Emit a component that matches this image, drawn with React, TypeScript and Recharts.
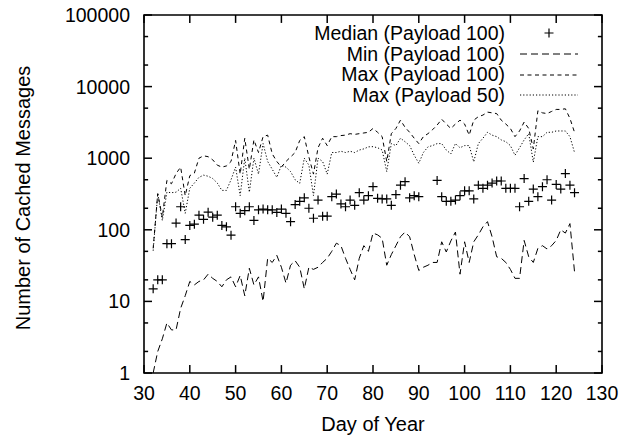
import { ComposedChart, Line, Scatter, XAxis, YAxis, Legend, ReferenceLine, ReferenceArea } from "recharts";

document.body.style.margin = "0";

const FONT = '"Liberation Sans", Arial, Helvetica, sans-serif';
const FS = 19.5;

// day of year, one entry per sample
const days = [
  32, 33, 34, 35, 36, 37, 38, 39, 40, 41,
  42, 43, 44, 45, 46, 47, 48, 49, 50, 51,
  52, 53, 54, 55, 56, 57, 58, 59, 60, 61,
  62, 63, 64, 65, 66, 67, 68, 69, 70, 71,
  72, 73, 74, 75, 76, 77, 78, 79, 80, 81,
  82, 83, 84, 85, 86, 87, 88, 89, 90, 91,
  92, 93, 94, 95, 96, 97, 98, 99, 100, 101,
  102, 103, 104, 105, 106, 107, 108, 109, 110, 111,
  112, 113, 114, 115, 116, 117, 118, 119, 120, 121,
  122, 123, 124,
];

const medianP100 = [
  15, 20, 20, 64, 64, 124, 210, 73, 115, 120,
  160, 140, 176, 150, 160, 115, 110, 84, 210, 170,
  185, 210, 135, 190, 195, 190, 190, 175, 195, 170,
  130, 225, 250, 280, 200, 145, 260, 155, 155, 290,
  315, 230, 210, 260, 220, 330, 260, 300, 400, 275,
  270, 270, 220, 310, 420, 470, 280, 300, 290, null,
  null, null, 490, 290, 250, 250, 260, 300, 350, 350,
  270, 420, 380, 420, 450, 480, 480, 380, 380, 380,
  210, 520, 250, 370, 290, 400, 500, 260, 430, 370,
  610, 420, 330,
];

const minP100 = [
  1, 2, 3, 5, 4, 4, 8, 12, 19, 17,
  19, 20, 24, 21, 19, 16, 20, 22, 16, 23,
  12, 29, 17, 22, 10, 40, 35, 44, 30, 18,
  32, 37, 30, 15, 30, 28, 30, 35, 40, 50,
  65, 60, 40, 28, 20, 40, 60, 50, 90, 85,
  76, 32, 45, 60, 80, 93, 80, 45, 27, 30,
  32, 35, 35, 68, 49, 70, 93, 24, 68, 35,
  68, 85, 110, 130, 80, 42, 40, 35, 28, 21,
  21, 71, 42, 35, 55, 60, 54, 60, 71, 100,
  90, 122, 26,
];

const maxP100 = [
  55, 320, 150, 490, 440, 610, 750, 300, 570, 620,
  1000, 1080, 1050, 950, 800, 750, 780, 900, 1770, 600,
  1900, 700, 1800, 1200, 2000, 2100, 1150, 900, 750, 900,
  1040, 1200, 1770, 2000, 1040, 600, 1400, 1900, 1500, 2000,
  2000, 2070, 2100, 2200, 2150, 2200, 2250, 2300, 2600, 2300,
  2000, 900, 2200, 2600, 3400, 2700, 2300, 1900, 1600, 2000,
  2200, 2500, 2900, 3500, 3000, 2600, 3000, 3400, 3000, 2100,
  3400, 3800, 4000, 4400, 4300, 4200, 3400, 3000, 2600, 2000,
  2400, 3200, 2600, 1350, 4600, 4300, 4200, 4500, 4800, 4800,
  4900, 3600, 2300,
];

const maxP50 = [
  51, 320, 135, 335, 330, 335, 380, 170, 380, 450,
  540, 580, 560, 520, 450, 355, 355, 500, 750, 300,
  1000, 335, 1000, 600, 1600, 900, 700, 540, 800, 750,
  650, 500, 445, 1000, 800, 300, 1000, 900, 600, 1200,
  1200, 1250, 1200, 1250, 1200, 1300, 1350, 1440, 1450, 1400,
  1300, 650, 1600, 1500, 1900, 1700, 1500, 1100, 850, 1200,
  1440, 1500, 1600, 1600, 1300, 1150, 1600, 1400, 1500, 1500,
  890, 1600, 1900, 2300, 2100, 2000, 1800, 1700, 1500, 1100,
  1400, 1800, 2200, 880, 2000, 2000, 2300, 2300, 2400, 2400,
  2400, 2000, 1200,
];

const xTicks = [30, 40, 50, 60, 70, 80, 90, 100, 110, 120, 130];
const yMajor = [1, 10, 100, 1000, 10000, 100000];
const yTicks = [1, 2, 5, 10, 20, 50, 100, 200, 500, 1000, 2000, 5000, 10000, 20000, 50000, 100000];

const rows = days.map((day, i) => ({
  day,
  min: minP100[i],
  max100: maxP100[i],
  max50: maxP50[i],
}));
const medianPoints = days
  .map((day, i) => ({ day, median: medianP100[i] }))
  .filter((p) => p.median != null);

const legendOrder = ["median", "min", "max100", "max50"];
const legendStyle: Record<string, string | null> = {
  median: null,
  min: "7 4",
  max100: "4 3.5",
  max50: "1.2 2",
};

// inward tick lengths, in axis units (about 8px / 4px)
const X_MIN = 30;
const X_MAX = 130;
const Y_MIN = 1;
const Y_MAX = 100000;
const TICK_DAYS = 1.75;
const TICK_DAYS_MINOR = 0.9;
const TICK_FACTOR = 1.29;

function LeftTick({ x, y, payload }: any) {
  if (!yMajor.includes(payload.value)) return <g />;
  return (
    <text x={x} y={y} dy="0.36em" textAnchor="end" fontFamily={FONT} fontSize={FS} fill="#000">
      {payload.value}
    </text>
  );
}

function BottomTick({ x, y, payload }: any) {
  return (
    <text x={x} y={Number(y) + 15} textAnchor="middle" fontFamily={FONT} fontSize={FS} fill="#000">
      {payload.value}
    </text>
  );
}

function YTitle() {
  return (
    <text
      x={30}
      y={198}
      transform="rotate(-90 30 198)"
      textAnchor="middle"
      fontFamily={FONT}
      fontSize={20}
      fill="#000"
    >
      Number of Cached Messages
    </text>
  );
}

function XTitle() {
  return (
    <text x={373} y={431} textAnchor="middle" fontFamily={FONT} fontSize={20} fill="#000">
      Day of Year
    </text>
  );
}

function Plus({ cx, cy }: any) {
  if (cx == null || cy == null || isNaN(cx) || isNaN(cy)) return <g />;
  return (
    <path
      d={`M${cx - 4.5},${cy}h9M${cx},${cy - 4.5}v9`}
      stroke="#000"
      strokeWidth={1.2}
      fill="none"
    />
  );
}

function LegendBox({ payload }: any) {
  const items = [...(payload || [])].sort(
    (a: any, b: any) => legendOrder.indexOf(a.dataKey) - legendOrder.indexOf(b.dataKey)
  );
  return (
    <div style={{ fontFamily: FONT, fontSize: FS, color: "#000" }}>
      {items.map((e: any) => {
        const dash = legendStyle[e.dataKey];
        return (
          <div
            key={e.dataKey}
            style={{ display: "flex", justifyContent: "flex-end", alignItems: "center", height: 20.7 }}
          >
            <span style={{ whiteSpace: "nowrap" }}>{e.value}</span>
            <svg width={72} height={20} style={{ marginLeft: 8 }}>
              {dash === null ? (
                <path d="M31.5,10h9M36,5.5v9" stroke="#000" strokeWidth={1.2} />
              ) : (
                <line x1={7} x2={65} y1={10} y2={10} stroke="#000" strokeDasharray={dash} />
              )}
            </svg>
          </div>
        );
      })}
    </div>
  );
}

const tickStroke = { stroke: "#000", strokeWidth: 1.5, ifOverflow: "visible" as const };

export default function App() {
  return (
    <ComposedChart
      width={634}
      height={438}
      data={rows}
      margin={{ top: 15, right: 32, bottom: 0, left: 0 }}
    >
      <XAxis
        xAxisId="b"
        dataKey="day"
        type="number"
        domain={[X_MIN, X_MAX]}
        ticks={xTicks}
        interval={0}
        height={65}
        tickSize={0}
        tickMargin={12}
        tickLine={false}
        tick={<BottomTick />}
        axisLine={false}
        allowDataOverflow
        label={<XTitle />}
      />
      <YAxis
        yAxisId="l"
        scale="log"
        type="number"
        domain={[Y_MIN, Y_MAX]}
        ticks={yTicks}
        interval={0}
        width={144}
        tickSize={0}
        tickMargin={14}
        tickLine={false}
        tick={<LeftTick />}
        axisLine={false}
        allowDataOverflow
        label={<YTitle />}
      />
      <ReferenceArea
        xAxisId="b"
        yAxisId="l"
        x1={X_MIN}
        x2={X_MAX}
        y1={Y_MIN}
        y2={Y_MAX}
        fill="none"
        stroke="#000"
        strokeWidth={1.6}
        ifOverflow="visible"
      />
      {yTicks.map((v) => {
        const len = yMajor.includes(v) ? TICK_DAYS : TICK_DAYS_MINOR;
        return [
          <ReferenceLine
            key={`l${v}`}
            xAxisId="b"
            yAxisId="l"
            segment={[{ x: X_MIN, y: v }, { x: X_MIN + len, y: v }]}
            {...tickStroke}
          />,
          <ReferenceLine
            key={`r${v}`}
            xAxisId="b"
            yAxisId="l"
            segment={[{ x: X_MAX - len, y: v }, { x: X_MAX, y: v }]}
            {...tickStroke}
          />,
        ];
      })}
      {xTicks.map((t) => [
        <ReferenceLine
          key={`b${t}`}
          xAxisId="b"
          yAxisId="l"
          segment={[{ x: t, y: Y_MIN }, { x: t, y: Y_MIN * TICK_FACTOR }]}
          {...tickStroke}
        />,
        <ReferenceLine
          key={`t${t}`}
          xAxisId="b"
          yAxisId="l"
          segment={[{ x: t, y: Y_MAX / TICK_FACTOR }, { x: t, y: Y_MAX }]}
          {...tickStroke}
        />,
      ])}
      <Legend
        layout="vertical"
        align="center"
        verticalAlign="middle"
        content={<LegendBox />}
        wrapperStyle={{ left: 285, top: 23, width: 300 }}
      />
      <Scatter
        xAxisId="b"
        yAxisId="l"
        name="Median (Payload 100)"
        data={medianPoints}
        dataKey="median"
        shape={<Plus />}
        isAnimationActive={false}
      />
      <Line
        xAxisId="b"
        yAxisId="l"
        name="Min (Payload 100)"
        dataKey="min"
        type="linear"
        stroke="#000"
        strokeWidth={1}
        strokeDasharray="7 4"
        dot={false}
        isAnimationActive={false}
      />
      <Line
        xAxisId="b"
        yAxisId="l"
        name="Max (Payload 100)"
        dataKey="max100"
        type="linear"
        stroke="#000"
        strokeWidth={1}
        strokeDasharray="4 3.5"
        dot={false}
        isAnimationActive={false}
      />
      <Line
        xAxisId="b"
        yAxisId="l"
        name="Max (Payload 50)"
        dataKey="max50"
        type="linear"
        stroke="#000"
        strokeWidth={1}
        strokeDasharray="1.2 2"
        dot={false}
        isAnimationActive={false}
      />
    </ComposedChart>
  );
}
